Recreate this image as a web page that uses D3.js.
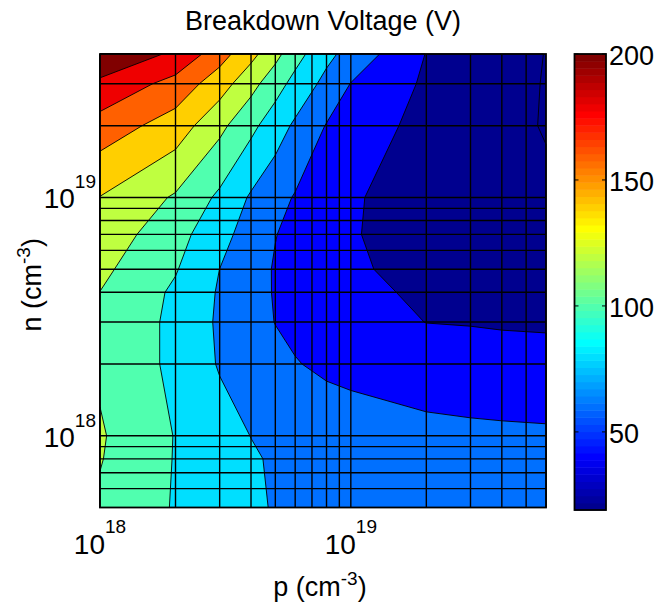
<!DOCTYPE html>
<html>
<head>
<meta charset="utf-8">
<title>Breakdown Voltage (V)</title>
<script src="https://cdn.jsdelivr.net/npm/d3@7"></script>
<style>
  body { margin: 0; background: #fff; }
  text { font-family: "Liberation Sans", Arial, sans-serif; fill: #000; }
</style>
</head>
<body>
<div id="chart"></div>
<script>
// doping grid (cm^-3): p along x, n along y (top row first)
var pGrid = [1e18, 2e18, 3e18, 4e18, 5e18, 6e18, 8e18, 1e19, 2e19, 3e19, 4e19, 6e19];
var nGrid = [4e19, 3e19, 2e19, 1e19, 7e18, 5e18, 4e18, 3e18, 2e18, 1e18, 8e17, 5e17];

// breakdown voltage (V), one row per n value, one column per p value
var voltage = [
  [212, 197.5, 168.2, 146, 126.1, 107.4, 85.3, 72.7, 39.4, 33, 28, 19.5],
  [197, 172.6, 149.3, 126.7, 108, 93.7, 74.2, 59.5, 37, 31.5, 26.5, 19],
  [171.3, 151, 125.1, 104.9, 89.3, 76.8, 59, 52.3, 33, 28, 23, 19.3],
  [139.5, 117.7, 96.2, 77.6, 66.6, 58.6, 50.3, 42.5, 29, 26, 24, 22],
  [132, 107.5, 86.6, 71.5, 60.5, 55.4, 47.7, 41.8, 29, 25, 23.5, 22.5],
  [124.4, 101.4, 79.9, 67.1, 58.6, 54.8, 48.7, 43.5, 32, 30, 29, 28],
  [119.8, 96.8, 78.1, 66.4, 58.8, 55.6, 50.6, 46.8, 35.5, 34, 33, 32.5],
  [117, 95.5, 77.1, 66.9, 59.6, 57, 52.9, 49.8, 39.7, 38.8, 37.5, 36.5],
  [117, 95.5, 78.4, 71.1, 65.3, 60.7, 57.5, 56.5, 53, 51, 50.5, 50],
  [122, 99.2, 87.9, 79.7, 76, 73.5, 68, 66, 63.5, 63, 62.5, 62],
  [121, 99, 89.4, 82.4, 77.5, 75, 71, 69, 65.5, 64.5, 64, 63.5],
  [117, 98.5, 89.8, 83.6, 78.5, 76, 72.5, 70.5, 67, 66, 65.5, 65]
];

var levels = [20, 40, 60, 80, 100, 120, 140, 160, 180, 200];
var majorTicks = [1e18, 1e19];
var tickBase = "10";
var tickExp = ["18", "19"];
var cbTicks = [50, 100, 150, 200];

var W = 656, H = 605;
var plot = {left: 100, right: 546, top: 54, bottom: 507.5};
var cb = {left: 574.5, right: 606, top: 54, bottom: 510};

var svg = d3.select("#chart").append("svg")
    .attr("width", W)
    .attr("height", H);

var x = d3.scaleLog().domain([pGrid[0], pGrid[pGrid.length - 1]]).range([plot.left, plot.right]);
var y = d3.scaleLog().domain([nGrid[nGrid.length - 1], nGrid[0]]).range([plot.bottom, plot.top]);

// matlab style jet colormap
function jet(m) {
  var n = Math.ceil(m / 4), u = [], i;
  for (i = 1; i <= n; i++) u.push(i / n);
  for (i = 1; i < n; i++) u.push(1);
  for (i = n; i >= 1; i--) u.push(i / n);
  var g0 = Math.ceil(n / 2) - (m % 4 === 1 ? 1 : 0);
  var map = d3.range(m).map(function() { return [0, 0, 0]; });
  u.forEach(function(v, k) {
    var g = g0 + k, r = g + n, b = g - n;
    if (g >= 0 && g < m) map[g][1] = v;
    if (r >= 0 && r < m) map[r][0] = v;
    if (b >= 0 && b < m) map[b][2] = v;
  });
  return map.map(function(c) { return d3.rgb(c[0] * 255, c[1] * 255, c[2] * 255).toString(); });
}
var cmap = jet(64);
var flat = [].concat.apply([], voltage);
var cMin = d3.min(flat), cMax = levels[levels.length - 1];
function colorOf(v) {
  var k = Math.floor((v - cMin) / (cMax - cMin) * cmap.length);
  return cmap[Math.max(0, Math.min(cmap.length - 1, k))];
}

// contour coords are in grid cells; map them onto the log axes
function gridPos(g, vals, scale) {
  var t = Math.max(0, Math.min(vals.length - 1, g - 0.5));
  var i = Math.min(Math.floor(t), vals.length - 2), f = t - i;
  var lv = Math.log10(vals[i]) + f * (Math.log10(vals[i + 1]) - Math.log10(vals[i]));
  return scale(Math.pow(10, lv));
}
var path = d3.geoPath(d3.geoTransform({
  point: function(gx, gy) { this.stream.point(gridPos(gx, pGrid, x), gridPos(gy, nGrid, y)); }
}));

var contours = d3.contours()
    .size([pGrid.length, nGrid.length])
    .thresholds(levels)(flat);

var g = svg.append("g");
g.append("rect")
    .attr("x", plot.left).attr("y", plot.top)
    .attr("width", plot.right - plot.left)
    .attr("height", plot.bottom - plot.top)
    .attr("fill", colorOf(cMin));

g.selectAll("path.band")
  .data(contours)
  .enter().append("path")
    .attr("class", "band")
    .attr("d", path)
    .attr("fill", function(d) { return colorOf(d.value); })
    .attr("stroke", "#000")
    .attr("stroke-width", 0.9)
    .attr("stroke-linejoin", "round");

// log grid
var gx = x.ticks().filter(function(v) { return x(v) > plot.left + 1 && x(v) < plot.right - 1; });
var gy = y.ticks().filter(function(v) { return y(v) < plot.bottom - 1 && y(v) > plot.top + 1; });
g.selectAll("line.gx").data(gx).enter().append("line")
    .attr("x1", function(d) { return x(d); }).attr("x2", function(d) { return x(d); })
    .attr("y1", plot.top).attr("y2", plot.bottom)
    .attr("stroke", "#000").attr("stroke-width", 1.4);
g.selectAll("line.gy").data(gy).enter().append("line")
    .attr("y1", function(d) { return y(d); }).attr("y2", function(d) { return y(d); })
    .attr("x1", plot.left).attr("x2", plot.right)
    .attr("stroke", "#000").attr("stroke-width", 1.4);

g.append("rect")
    .attr("x", plot.left).attr("y", plot.top)
    .attr("width", plot.right - plot.left)
    .attr("height", plot.bottom - plot.top)
    .attr("fill", "none").attr("stroke", "#000").attr("stroke-width", 1.8);

// tick labels 10^k
majorTicks.forEach(function(v, i) {
  var t = svg.append("text")
      .attr("x", x(v)).attr("y", 554)
      .attr("text-anchor", "middle")
      .attr("font-size", 28);
  t.append("tspan").text(tickBase);
  t.append("tspan").attr("font-size", 19).attr("dy", -21).text(tickExp[i]);

  var s = svg.append("text")
      .attr("x", 96).attr("y", y(v) + 11)
      .attr("text-anchor", "end")
      .attr("font-size", 28);
  s.append("tspan").text(tickBase);
  s.append("tspan").attr("font-size", 19).attr("dy", -20).text(tickExp[i]);
});

// axis labels
var xl = svg.append("text")
    .attr("x", (plot.left + plot.right) / 2 - 3).attr("y", 596)
    .attr("text-anchor", "middle").attr("font-size", 27);
xl.append("tspan").text("p (cm");
xl.append("tspan").attr("font-size", 19).attr("dy", -11).text("-3");
xl.append("tspan").attr("dy", 11).text(")");

var yl = svg.append("text")
    .attr("transform", "translate(41," + ((plot.top + plot.bottom) / 2 + 4) + ") rotate(-90)")
    .attr("text-anchor", "middle").attr("font-size", 27);
yl.append("tspan").text("n (cm");
yl.append("tspan").attr("font-size", 19).attr("dy", -11).text("-3");
yl.append("tspan").attr("dy", 11).text(")");

svg.append("text")
    .attr("x", (plot.left + plot.right) / 2).attr("y", 30)
    .attr("text-anchor", "middle").attr("font-size", 27)
    .text("Breakdown Voltage (V)");

// colorbar
var cy = d3.scaleLinear().domain([cMin, cMax]).range([cb.bottom, cb.top]);
var step = (cMax - cMin) / cmap.length;
svg.append("g").selectAll("rect")
  .data(cmap)
  .enter().append("rect")
    .attr("x", cb.left)
    .attr("width", cb.right - cb.left)
    .attr("y", function(d, i) { return cy(cMin + (i + 1) * step); })
    .attr("height", function(d, i) { return cy(cMin + i * step) - cy(cMin + (i + 1) * step) + 0.5; })
    .attr("fill", function(d) { return d; });
svg.append("rect")
    .attr("x", cb.left).attr("y", cb.top)
    .attr("width", cb.right - cb.left).attr("height", cb.bottom - cb.top)
    .attr("fill", "none").attr("stroke", "#000").attr("stroke-width", 1.8);
cbTicks.forEach(function(v) {
  svg.append("line").attr("x1", cb.left).attr("x2", cb.left + 4)
      .attr("y1", cy(v)).attr("y2", cy(v)).attr("stroke", "#000");
  svg.append("line").attr("x1", cb.right - 4).attr("x2", cb.right)
      .attr("y1", cy(v)).attr("y2", cy(v)).attr("stroke", "#000");
  svg.append("text")
      .attr("x", cb.right + 3).attr("y", cy(v) + 11)
      .attr("font-size", 27)
      .text(v);
});
</script>
</body>
</html>
